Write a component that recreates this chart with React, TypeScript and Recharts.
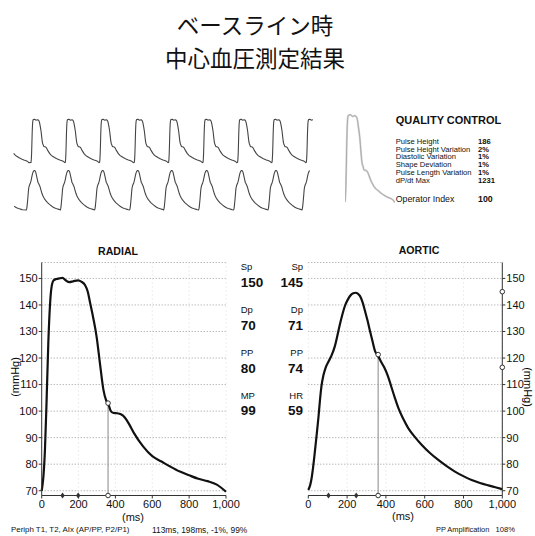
import {
  LineChart,
  Line,
  XAxis,
  YAxis,
  CartesianGrid,
  ReferenceLine,
  ReferenceDot,
} from "recharts";

// radial pulse (ms / mmHg)
const radialT = [0, 5, 10, 18, 27, 36, 45, 54, 65, 80, 95, 113, 130, 150, 170, 198, 215, 235, 250, 262, 280, 298, 316, 335, 350, 360, 375, 390, 410, 430, 452, 475, 500, 550, 600, 650, 700, 750, 800, 850, 900, 950, 1000];
const radialP = [70, 72.5, 76, 86, 105, 126, 140, 147, 149.3, 149.8, 150, 150.2, 149.3, 148.6, 148.9, 149.3, 148.8, 147.5, 145, 141, 135, 128, 118, 108, 104, 103, 100, 99.3, 99.2, 98.8, 97.5, 95, 91.8, 86.7, 83, 81, 79, 77.2, 75.8, 74.5, 73.6, 72.3, 69.6];

// aortic pulse (ms / mmHg)
const aorticT = [0, 10, 17, 25, 34, 43, 52, 60, 68, 78, 90, 105, 120, 137, 150, 163, 176, 189, 205, 220, 232, 244, 255, 266, 280, 292, 305, 318, 331, 344, 357, 378, 391, 404, 417, 430, 447, 464, 490, 515, 550, 584, 627, 670, 713, 756, 799, 842, 885, 928, 964, 1000];
const aorticP = [70.3, 72.2, 74.7, 79, 84.8, 91, 97.4, 104, 109.5, 113.5, 116.5, 118.8, 121, 124.5, 128.5, 132.7, 136.5, 139.7, 142.2, 143.8, 144.4, 144.6, 144.3, 143.4, 141, 137.8, 134.2, 130.2, 126.3, 122.6, 121.1, 118.2, 116.5, 114.4, 111.8, 108.7, 104.8, 101.2, 97, 93.6, 90.2, 87.3, 84.2, 81.6, 79.3, 77.2, 75.5, 74, 72.9, 72, 71.3, 70.6];

// beat onsets in the recorded strip (ms)
const radialOnsets = [-530, 532, 1547, 2562, 3589, 4604, 5621, 6645, 7663, 8678];
const aorticOnsets = [-720, 393, 1399, 2414, 3450, 4456, 5491, 6527, 7544, 8550];
const stripEnd = 8885;
const stripEndAortic = 8790;

const timeTicks = [0, 200, 400, 600, 800, 1000];
const pressTicks = [70, 80, 90, 100, 110, 120, 130, 140, 150];

const radialDiamonds = [113, 198];
const aorticDiamonds = [104, 247];
const notchTime = 360;
const radialNotchP = 103;
const aorticNotchP = 121.3;
const aorticAxisDots = [145, 116.5];

const radialStats = [
  ["Sp", "150"],
  ["Dp", "70"],
  ["PP", "80"],
  ["MP", "99"],
];
const aorticStats = [
  ["Sp", "145"],
  ["Dp", "71"],
  ["PP", "74"],
  ["HR", "59"],
];

const qcLabels = ["Pulse Height", "Pulse Height Variation", "Diastolic Variation", "Shape Deviation", "Pulse Length Variation", "dP/dt Max"];
const qcValues = ["186", "2%", "1%", "1%", "1%", "1231"];

const FONT = '"Liberation Sans", Arial, sans-serif';
const Y_DOMAIN: [number, number] = [68.2, 156];

const toRows = (ts: number[], ps: number[]) => ts.map((t, i) => ({ t, p: ps[i] }));

function buildStrip(ts: number[], ps: number[], onsets: number[], end: number) {
  const rows: { t: number; p: number }[] = [];
  onsets.forEach((o) => {
    ts.forEach((t, i) => {
      const x = o + t;
      if (x >= 0 && x <= end) rows.push({ t: x, p: ps[i] });
    });
  });
  return rows;
}

const radialData = toRows(radialT, radialP);
const aorticData = toRows(aorticT, aorticP);
const topStrip = buildStrip(radialT, radialP, radialOnsets, stripEnd);
const bottomStrip = buildStrip(aorticT, aorticP, aorticOnsets, stripEndAortic);

const Diamond = (props: any) => {
  const { cx, cy } = props;
  return <path d={`M${cx},${cy - 3}L${cx + 2.2},${cy}L${cx},${cy + 3}L${cx - 2.2},${cy}Z`} fill="#333" />;
};

function Txt({ x, y, size, children, bold, align = "left", color = "#111", family = FONT }: any) {
  const style: any = {
    position: "absolute",
    top: y,
    fontSize: size,
    lineHeight: 1,
    fontFamily: family,
    fontWeight: bold ? 700 : 400,
    color,
    whiteSpace: "nowrap",
    transform: "translateY(-50%)",
  };
  if (align === "left") style.left = x;
  if (align === "right") style.right = 535 - x;
  if (align === "center") {
    style.left = x;
    style.transform = "translate(-50%, -50%)";
  }
  return <div style={style}>{children}</div>;
}

function Strip({ data, left, top, width, height, domain, end }: any) {
  return (
    <div style={{ position: "absolute", left, top }}>
      <LineChart width={width} height={height} data={data} margin={{ top: 0, right: 0, bottom: 0, left: 0 }}>
        <XAxis type="number" dataKey="t" domain={[0, end]} hide />
        <YAxis type="number" domain={domain} hide />
        <Line type="linear" dataKey="p" stroke="#444" strokeWidth={1.1} dot={false} isAnimationActive={false} />
      </LineChart>
    </div>
  );
}

function PulseChart({ data, side, diamonds, notchP, axisDots }: any) {
  const right = side === "right";
  const margin = right
    ? { top: 32.5, right: 2.7, bottom: 14.5, left: 43.3 }
    : { top: 32.5, right: 14, bottom: 14.5, left: 11.7 };
  return (
    <LineChart width={right ? 270 : 240} height={300} data={data} margin={margin}>
      <CartesianGrid vertical={false} stroke="#9a9a9a" strokeDasharray="1 2" />
      <CartesianGrid horizontal={false} stroke="#dcdcdc" strokeDasharray="1 3" />
      <XAxis
        type="number"
        dataKey="t"
        domain={[0, 1000]}
        ticks={timeTicks}
        interval={0}
        height={20}
        tickSize={3}
        tickMargin={2}
        tickFormatter={(v: number) => v.toLocaleString("en-US")}
        tick={{ fontSize: 11, fill: "#111", fontFamily: FONT }}
        axisLine={{ stroke: "#333" }}
        tickLine={{ stroke: "#333" }}
      />
      <YAxis
        type="number"
        orientation={right ? "right" : "left"}
        domain={Y_DOMAIN}
        ticks={pressTicks}
        interval={0}
        allowDataOverflow
        width={30}
        tickSize={3}
        tickMargin={1}
        tick={{ fontSize: 11, fill: "#111", fontFamily: FONT }}
        axisLine={{ stroke: "#333" }}
        tickLine={{ stroke: "#333" }}
      />
      <ReferenceLine
        segment={[
          { x: notchTime, y: Y_DOMAIN[0] },
          { x: notchTime, y: notchP },
        ]}
        stroke="#888"
        strokeWidth={1}
      />
      <Line type="monotone" dataKey="p" stroke="#111" strokeWidth={2.2} dot={false} isAnimationActive={false} />
      <ReferenceDot x={notchTime} y={notchP} r={2.3} fill="#fff" stroke="#333" strokeWidth={1} ifOverflow="visible" />
      {diamonds.map((d: number) => (
        <ReferenceDot key={d} x={d} y={Y_DOMAIN[0]} shape={Diamond} ifOverflow="visible" />
      ))}
      <ReferenceDot x={notchTime} y={Y_DOMAIN[0]} r={2.3} fill="#fff" stroke="#333" strokeWidth={1} ifOverflow="visible" />
      {(axisDots || []).map((v: number) => (
        <ReferenceDot key={v} x={1000} y={v} r={2.3} fill="#fff" stroke="#333" strokeWidth={1} ifOverflow="visible" />
      ))}
    </LineChart>
  );
}

export default function App() {
  const statY = [267, 310, 353, 395.5];
  const titleStyle: any = {
    position: "absolute",
    left: 255,
    transform: "translate(-50%, -50%)",
    fontFamily: '"Noto Sans CJK JP", sans-serif',
    fontSize: 22.5,
    lineHeight: "23px",
    whiteSpace: "nowrap",
    color: "#111",
  };
  return (
    <div style={{ position: "absolute", left: 0, top: 0, width: 535, height: 536, background: "#fff", overflow: "hidden" }}>
      <div style={{ ...titleStyle, top: 24 }}>ベースライン時</div>
      <div style={{ ...titleStyle, top: 57 }}>中心血圧測定結果</div>

      <Strip data={topStrip} left={12.7} top={113.6} width={300.3} height={53.75} domain={[60, 160]} end={stripEnd} />
      <Strip data={bottomStrip} left={12.7} top={165.4} width={300.3} height={50.4} domain={[60, 155]} end={stripEnd} />

      <div style={{ position: "absolute", left: 345, top: 104.1 }}>
        <LineChart width={50} height={109} data={radialData} margin={{ top: 0, right: 0, bottom: 0, left: 0 }}>
          <XAxis type="number" dataKey="t" domain={[0, 1000]} hide />
          <YAxis type="number" domain={[60, 160]} hide />
          <Line type="monotone" dataKey="p" stroke="#d4d4d4" strokeWidth={2} dot={false} isAnimationActive={false} />
          <Line type="monotone" dataKey="p" stroke="#a0a0a0" strokeWidth={0.8} dot={false} isAnimationActive={false} />
        </LineChart>
      </div>

      <Txt x={395.7} y={120} size={11} bold>QUALITY CONTROL</Txt>
      {qcLabels.map((l, i) => (
        <Txt key={l} x={395.7} y={141.7 + i * 7.8} size={7.6}>{l}</Txt>
      ))}
      {qcValues.map((v, i) => (
        <Txt key={i} x={478} y={141.7 + i * 7.8} size={7.6} bold>{v}</Txt>
      ))}
      <Txt x={395.7} y={199} size={8.8}>Operator Index</Txt>
      <Txt x={478} y={199} size={8.8} bold>100</Txt>

      <div style={{ position: "absolute", left: 0, top: 230 }}>
        <PulseChart data={radialData} side="left" diamonds={radialDiamonds} notchP={radialNotchP} />
      </div>
      <div style={{ position: "absolute", left: 265, top: 230 }}>
        <PulseChart data={aorticData} side="right" diamonds={aorticDiamonds} notchP={aorticNotchP} axisDots={aorticAxisDots} />
      </div>

      <Txt x={118} y={251} size={10.6} bold align="center">RADIAL</Txt>
      <Txt x={419} y={250} size={10.6} bold align="center">AORTIC</Txt>
      <Txt x={133} y={517} size={11} align="center">(ms)</Txt>
      <Txt x={403} y={516} size={11} align="center">(ms)</Txt>
      <div style={{ position: "absolute", left: 15, top: 377, transform: "translate(-50%, -50%) rotate(-90deg)", fontSize: 11, fontFamily: FONT, whiteSpace: "nowrap", lineHeight: 1 }}>
        (mmHg)
      </div>
      <div style={{ position: "absolute", left: 527, top: 387, transform: "translate(-50%, -50%) rotate(90deg)", fontSize: 11, fontFamily: FONT, whiteSpace: "nowrap", lineHeight: 1 }}>
        (mmHg)
      </div>

      {radialStats.map(([k, v], i) => (
        <div key={k}>
          <Txt x={240.7} y={statY[i]} size={9.5}>{k}</Txt>
          <Txt x={240.7} y={statY[i] + 15.5} size={13.5} bold>{v}</Txt>
        </div>
      ))}
      {aorticStats.map(([k, v], i) => (
        <div key={k}>
          <Txt x={303} y={statY[i]} size={9.5} align="right">{k}</Txt>
          <Txt x={303} y={statY[i] + 15.5} size={13.5} bold align="right">{v}</Txt>
        </div>
      ))}

      <Txt x={11} y={530} size={7.9}>Periph T1, T2, AIx (AP/PP, P2/P1)</Txt>
      <Txt x={152} y={530} size={8.4}>113ms, 198ms, -1%, 99%</Txt>
      <Txt x={436} y={530} size={7.4}>PP Amplification</Txt>
      <Txt x={515} y={530} size={7.6} align="right">108%</Txt>
    </div>
  );
}
